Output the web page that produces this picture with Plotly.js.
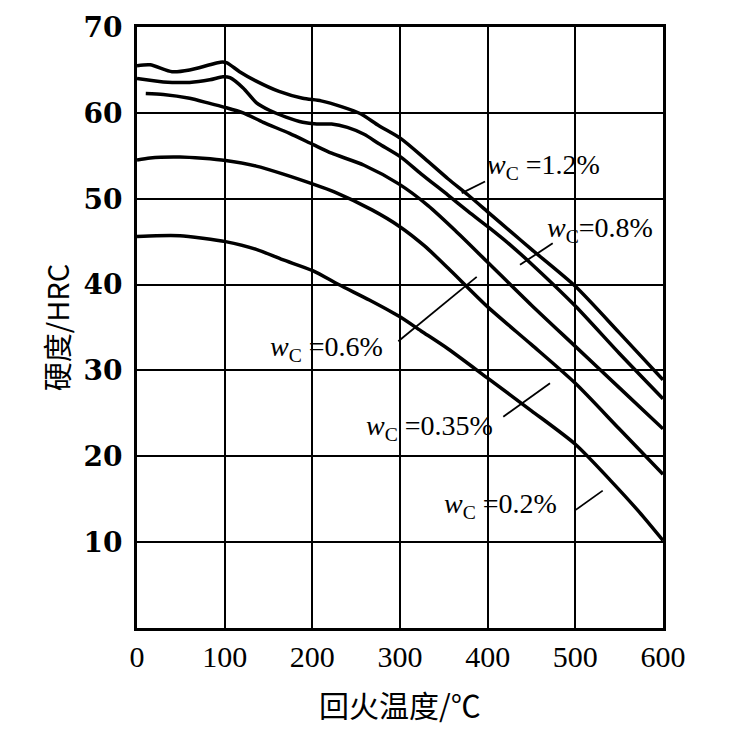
<!DOCTYPE html>
<html>
<head>
<meta charset="utf-8">
<script src="https://cdn.plot.ly/plotly-3.0.1.min.js"></script>
<style>html,body{margin:0;padding:0;background:#fff;}#chart{width:747px;height:737px;}</style>
</head>
<body>
<div id="chart"></div>
<script>
// Tempering temperature (°C) and hardness (HRC) for each carbon content
const x12 = [0, 15, 40, 60, 83, 95, 102, 117, 136, 162, 189, 210, 234, 255, 276, 301, 328, 355, 378, 402, 426, 450, 500, 550, 600];
const y12 = [65.5, 65.6, 64.8, 65.0, 65.6, 65.9, 65.85, 64.8, 63.7, 62.5, 61.7, 61.4, 60.7, 59.9, 58.5, 57.0, 54.7, 52.3, 50.4, 48.3, 46.2, 44.1, 39.8, 34.4, 28.9];

const x08 = [0, 30, 60, 83, 98, 106, 121, 136, 151, 170, 189, 205, 222, 240, 259, 276, 301, 324, 355, 378, 402, 426, 450, 500, 550, 600];
const y08 = [64.0, 63.6, 63.55, 63.85, 64.2, 64.1, 62.9, 61.2, 60.3, 59.5, 58.9, 58.7, 58.7, 58.3, 57.5, 56.4, 54.85, 52.9, 50.4, 48.5, 46.6, 44.6, 42.4, 37.5, 32.0, 26.7];

const x06 = [10, 30, 60, 83, 102, 121, 144, 174, 201, 222, 259, 299, 332, 363, 400, 450, 500, 550, 600];
const y06 = [62.25, 62.15, 61.7, 61.1, 60.6, 60.0, 58.9, 57.6, 56.3, 55.3, 53.9, 51.7, 49.2, 46.3, 42.6, 37.6, 32.8, 28.0, 23.2];

const x035 = [0, 15, 49, 75, 101, 136, 166, 201, 225, 268, 299, 328, 355, 400, 450, 500, 550, 600];
const y035 = [54.5, 54.75, 54.85, 54.7, 54.45, 53.8, 52.9, 51.7, 50.8, 48.7, 46.8, 44.5, 41.9, 37.4, 33.0, 28.5, 23.2, 17.9];

const x02 = [0, 22, 49, 75, 101, 136, 166, 201, 230, 265, 299, 324, 355, 400, 450, 500, 540, 573, 600];
const y02 = [45.6, 45.7, 45.7, 45.4, 45.0, 44.1, 42.9, 41.6, 40.0, 38.2, 36.3, 34.6, 32.5, 29.1, 25.3, 21.4, 17.2, 13.5, 10.2];

const seriesNames = ['wC=1.2%', 'wC=0.8%', 'wC=0.6%', 'wC=0.35%', 'wC=0.2%'];
const labelTexts = [
  '<i>w</i><sub>C</sub> =1.2%',
  '<i>w</i><sub>C</sub>=0.8%',
  '<i>w</i><sub>C</sub> =0.6%',
  '<i>w</i><sub>C</sub> =0.35%',
  '<i>w</i><sub>C</sub> =0.2%'
];
const xTicks = [0, 100, 200, 300, 400, 500, 600];
const yTicks = [10, 20, 30, 40, 50, 60, 70];

// label anchor positions (data units) and leader lines
const labelX = [464, 528, 216, 334, 415];
const labelY = [53.7, 46.4, 32.6, 23.3, 14.3];
const leadX0 = [370.4, 436.9, 298.1, 417.8, 499.6];
const leadY0 = [50.65, 42.3, 33.4, 24.6, 13.7];
const leadX1 = [397, 474.2, 387.5, 471.1, 531.2];
const leadY1 = [52.0, 44.8, 40.9, 28.5, 16.0];

const xs = [x12, x08, x06, x035, x02];
const ys = [y12, y08, y06, y035, y02];

const traces = xs.map((xv, i) => ({
  x: xv, y: ys[i], type: 'scatter', mode: 'lines', name: seriesNames[i],
  line: {color: '#000', width: 3.5, shape: 'spline', smoothing: 0.7},
  hoverinfo: 'x+y'
}));

const shapes = leadX0.map((v, i) => ({
  type: 'line', xref: 'x', yref: 'y', x0: v, y0: leadY0[i], x1: leadX1[i], y1: leadY1[i],
  line: {color: '#000', width: 1.8}
}));

const annotations = labelX.map((v, i) => ({
  x: v, y: labelY[i], xref: 'x', yref: 'y', text: labelTexts[i], showarrow: false,
  font: {family: 'Liberation Serif, Times New Roman, serif', size: 28, color: '#000'},
  xanchor: 'center', yanchor: 'middle'
}));

const layout = {
  width: 747, height: 737,
  margin: {l: 137, r: 84, t: 27, b: 109, pad: 0},
  paper_bgcolor: '#fff', plot_bgcolor: '#fff',
  showlegend: false,
  xaxis: {
    range: [0, 600], tickvals: xTicks, ticktext: xTicks.map(String),
    showgrid: true, gridcolor: '#000', gridwidth: 2,
    showline: true, linecolor: '#000', linewidth: 3, mirror: true,
    zeroline: false, ticks: '', ticklabelstandoff: 0,
    tickfont: {family: 'Liberation Serif, Times New Roman, serif', size: 30, color: '#000'},
    title: {text: '回火温度/℃', standoff: 24,
      font: {family: 'Noto Sans CJK SC, sans-serif', size: 30, color: '#000'}}
  },
  yaxis: {
    range: [0, 70], tickvals: yTicks, ticktext: yTicks.map(String),
    showgrid: true, gridcolor: '#000', gridwidth: 2,
    showline: true, linecolor: '#000', linewidth: 3, mirror: true,
    zeroline: false, ticks: '', ticklabelstandoff: 6,
    tickfont: {family: 'DejaVu Serif, serif', size: 28, color: '#000', weight: 'bold'},
    title: {text: '硬度/HRC', standoff: 6,
      font: {family: 'Noto Sans CJK SC, sans-serif', size: 29, color: '#000'}}
  },
  shapes: shapes,
  annotations: annotations
};

Plotly.newPlot('chart', traces, layout, {displayModeBar: false, staticPlot: true});
</script>
</body>
</html>
